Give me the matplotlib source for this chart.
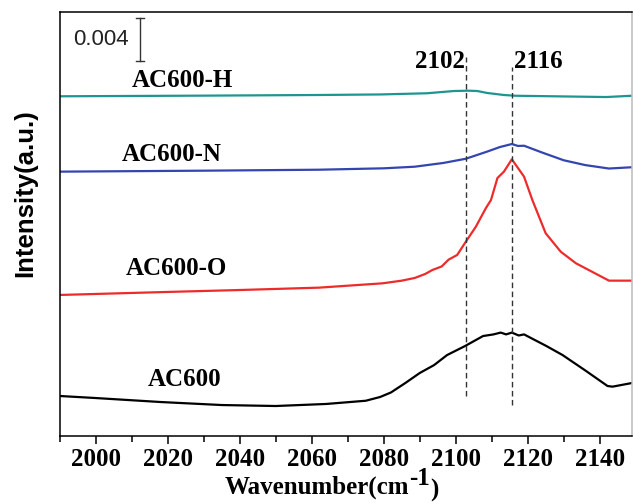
import numpy as np
import matplotlib
matplotlib.use("Agg")
import matplotlib.pyplot as plt
from matplotlib.ticker import MultipleLocator

# spectra (already stacked with offsets, units of 0.001)
wn_ac600 = [1990, 2000, 2018, 2035, 2050, 2064, 2075, 2079, 2082, 2086, 2090, 2094, 2097.6,
            2102.6, 2107.6, 2110.5, 2112.5, 2114, 2115.6, 2117.5, 2119, 2121, 2125.2,
            2129.7, 2136, 2142.2, 2143.6, 2149]
y_ac600 = [3.72, 3.53, 3.16, 2.88, 2.79, 2.98, 3.28, 3.63, 4.05, 4.93, 5.86, 6.60, 7.53,
           8.37, 9.30, 9.45, 9.62, 9.45, 9.62, 9.35, 9.45, 9.10, 8.37,
           7.53, 6.10, 4.65, 4.59, 4.93]

wn_ac600_o = [1990, 2020, 2040, 2062, 2079.6, 2085, 2088.6, 2091.5, 2093.5, 2096.1, 2098,
              2100.4, 2102.8, 2105.6, 2108.4, 2109.8, 2111.6, 2113.4, 2115.6, 2119, 2121.3,
              2125, 2129.2, 2133.4, 2142.6, 2149]
y_ac600_o = [13.12, 13.40, 13.58, 13.80, 14.20, 14.45, 14.70, 15.07, 15.44, 15.77, 16.40,
             16.84, 18.07, 19.47, 21.21, 21.95, 24.00, 24.59, 25.74, 24.12, 21.95,
             18.86, 17.14, 16.07, 14.45, 14.45]

wn_ac600_n = [1990, 2030, 2062, 2080, 2088.6, 2096.6, 2102.8, 2108.7, 2112.3, 2115.6,
              2117.3, 2119, 2124, 2130, 2136, 2142.6, 2149]
y_ac600_n = [24.59, 24.68, 24.77, 24.90, 25.05, 25.40, 25.79, 26.45, 26.88, 27.16,
             26.98, 27.00, 26.37, 25.65, 25.20, 24.88, 25.00]

wn_ac600_h = [1990, 2030, 2062, 2079, 2092, 2099.5, 2103.6, 2106, 2108.7, 2113.4, 2116.6,
              2125, 2141.8, 2149]
y_ac600_h = [31.60, 31.66, 31.72, 31.77, 31.88, 32.09, 32.12, 32.09, 31.91, 31.72, 31.65,
             31.61, 31.53, 31.65]

labels = ["AC600", "AC600-O", "AC600-N", "AC600-H"]
label_pos = [(2024.7, 5.21), (2022.3, 15.58), (2021.1, 26.14), (2024.1, 33.07)]

peak_wn = [2102.8, 2115.6]
peak_text = ["2102", "2116"]
peak_span = [(3.72, 35.26), (2.88, 34.33)]

serif = 'Liberation Serif'

fig = plt.figure(figsize=(6.35, 5.04), dpi=100)
ax = fig.add_axes([60/635, 1-436/504, 572/635, 424/504])

ax.plot(wn_ac600, y_ac600, color='black', lw=1.6)
ax.plot(wn_ac600_o, y_ac600_o, color='#ee2b2b', lw=1.6)
ax.plot(wn_ac600_n, y_ac600_n, color='#3445b0', lw=1.6)
ax.plot(wn_ac600_h, y_ac600_h, color='#1e9590', lw=1.6)

for (x, y), t in zip(label_pos, labels):
    ax.text(x, y, t, ha='center', va='center', fontsize=18, fontweight='bold', family=serif)

for x, (y0, y1) in zip(peak_wn, peak_span):
    ax.plot([x, x], [y0, y1], color='#333333', lw=1.0, ls=(0, (4, 2.5)))
ax.text(peak_wn[0] - 0.3, 34.8, peak_text[0], ha='right', va='center', fontsize=18,
        fontweight='bold', family=serif)
ax.text(peak_wn[1] + 0.5, 34.8, peak_text[1], ha='left', va='center', fontsize=18,
        fontweight='bold', family=serif)

# scale bar 0.004
bar_x = 2012.2
ax.plot([bar_x, bar_x], [34.88, 38.88], color='#333333', lw=1.0)
ax.plot([bar_x - 1.1, bar_x + 1.1], [38.88, 38.88], color='#333333', lw=1.0)
ax.plot([bar_x - 1.1, bar_x + 1.1], [34.88, 34.88], color='#333333', lw=1.0)
ax.text(2009, 36.84, "0.004", ha='right', va='center', fontsize=16,
        family='Liberation Sans', color='#222222')

ax.set_xlim(1990, 2149)
ax.set_ylim(0, 39.44)
ax.xaxis.set_major_locator(MultipleLocator(20))
ax.xaxis.set_minor_locator(MultipleLocator(10))
ax.tick_params(axis='x', which='major', direction='out', length=5.8, width=1.1, pad=3)
ax.tick_params(axis='x', which='minor', direction='out', length=4.0, width=1.1)
ax.set_yticks([])
for lab in ax.get_xticklabels():
    lab.set_fontfamily(serif)
    lab.set_fontweight('bold')
    lab.set_fontsize(18)
for s in ax.spines.values():
    s.set_linewidth(1.1)
ax.spines['right'].set_color('#bbbbbb')

# x label in pieces so the -1 sits raised at full size, like the original
xl = fig.text(225/635, 1-494/504, "Wavenumber(cm", ha='left', va='baseline',
              fontsize=18, fontweight='bold', family=serif)
r = fig.canvas.get_renderer()
bb = xl.get_window_extent(r)
sup = fig.text(bb.x1 / fig.bbox.width, 1-485/504, "-1", ha='left', va='baseline',
               fontsize=18, fontweight='bold', family=serif)
bb2 = sup.get_window_extent(r)
fig.text(bb2.x1 / fig.bbox.width, 1-497/504, ")", ha='left', va='baseline',
         fontsize=18, fontweight='bold', family=serif)

fig.text(25/635, 1-193/504, "Intensity(a.u.)", ha='center', va='center', rotation=90,
         fontsize=18.5, fontweight='bold', family='Liberation Sans')

fig.savefig("out.png", dpi=100)
